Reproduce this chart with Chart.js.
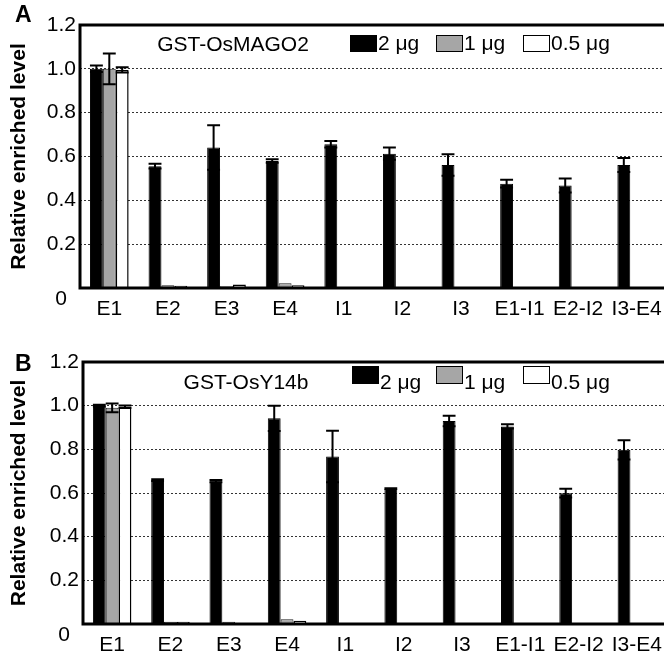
<!DOCTYPE html>
<html>
<head>
<meta charset="utf-8">
<script src="https://cdn.jsdelivr.net/npm/chart.js@4.4.1/dist/chart.umd.min.js"></script>
<style>
body { margin: 0; background: #fff; overflow: hidden; }
#wrap { position: relative; width: 664px; height: 655px; overflow: hidden; }
canvas { position: absolute; left: 0; }
#chartA { top: 0; }
#chartB { top: 330px; }
</style>
</head>
<body>
<div id="wrap">
  <canvas id="chartA" width="668" height="320"></canvas>
  <canvas id="chartB" width="668" height="325"></canvas>
</div>
<script>
const categories = ['E1', 'E2', 'E3', 'E4', 'I1', 'I2', 'I3', 'E1-I1', 'E2-I2', 'I3-E4'];
const doseLabels = ['2 μg', '1 μg', '0.5 μg'];
const yMin = 0, yMax = 1.2, yStep = 0.2;

// panel A - GST-OsMAGO2
const magoHigh    = [1.0, 0.556, 0.641, 0.579, 0.656, 0.613, 0.561, 0.476, 0.468, 0.561];
const magoHighErr = [0.015, 0.011, 0.102, 0.008, 0.015, 0.028, 0.049, 0.018, 0.032, 0.032];
const magoMid     = [1.0, 0.012, 0.008, 0.022, 0.003, 0.003, 0.003, 0.003, 0.003, 0.004];
const magoMidErr  = [0.07, 0, 0, 0, 0, 0, 0, 0, 0, 0];
const magoLow     = [0.995, 0.010, 0.016, 0.012, 0.003, 0.003, 0.003, 0.003, 0.003, 0.003];
const magoLowErr  = [0.012, 0, 0, 0, 0, 0, 0, 0, 0, 0];

// panel B - GST-OsY14b
const y14High    = [1.0, 0.659, 0.654, 0.942, 0.767, 0.620, 0.930, 0.905, 0.599, 0.798];
const y14HighErr = [0.004, 0.004, 0.005, 0.058, 0.118, 0.002, 0.024, 0.010, 0.020, 0.044];
const y14Mid     = [0.99, 0.010, 0.010, 0.022, 0.003, 0.003, 0.003, 0.003, 0.003, 0.003];
const y14MidErr  = [0.02, 0, 0, 0, 0, 0, 0, 0, 0, 0];
const y14Low     = [0.995, 0.010, 0.005, 0.015, 0.003, 0.003, 0.003, 0.003, 0.003, 0.003];
const y14LowErr  = [0.006, 0, 0, 0, 0, 0, 0, 0, 0, 0];

const FONT = '"Liberation Sans", Arial, Helvetica, sans-serif';

const errorBars = {
    id: 'errorBars',
    afterDatasetsDraw(chart) {
        const ctx = chart.ctx;
        const y = chart.scales.y;
        chart.data.datasets.forEach((ds, i) => {
            const meta = chart.getDatasetMeta(i);
            meta.data.forEach((bar, j) => {
                const e = ds.errors[j];
                if (!e) return;
                const v = ds.data[j];
                const top = y.getPixelForValue(v + e);
                const bot = y.getPixelForValue(v - e);
                const half = bar.width * 0.5;
                ctx.save();
                ctx.strokeStyle = '#000';
                ctx.lineWidth = 2;
                ctx.beginPath();
                ctx.moveTo(bar.x, top); ctx.lineTo(bar.x, bot);
                ctx.moveTo(bar.x - half, top); ctx.lineTo(bar.x + half, top);
                ctx.moveTo(bar.x - half, bot); ctx.lineTo(bar.x + half, bot);
                ctx.stroke();
                ctx.restore();
            });
        });
    }
};

const panelDecor = {
    id: 'panelDecor',
    afterDraw(chart, args, o) {
        const ctx = chart.ctx;
        const a = chart.chartArea;
        ctx.save();
        ctx.strokeStyle = '#000';
        ctx.lineWidth = 3;
        ctx.strokeRect(a.left, a.top, a.right - a.left, a.bottom - a.top);

        ctx.fillStyle = '#000';
        ctx.textBaseline = 'middle';
        ctx.textAlign = 'left';
        ctx.font = 'bold 23px ' + FONT;
        ctx.fillText(o.letter, o.letterX, o.letterY);

        // the zero label sits a little below the axis line
        ctx.font = '21px ' + FONT;
        ctx.textAlign = 'center';
        ctx.fillText('0', o.zeroX, chart.scales.y.getPixelForValue(0) + o.zeroDrop);

        ctx.fillText(o.title, o.titleX, o.titleY);

        ctx.textAlign = 'left';
        chart.data.datasets.forEach((ds, i) => {
            const x = o.legendX[i];
            ctx.fillStyle = ds.backgroundColor;
            ctx.fillRect(x, o.boxTop, 27, o.boxH);
            ctx.lineWidth = 1;
            ctx.strokeStyle = '#000';
            ctx.strokeRect(x + 0.5, o.boxTop + 0.5, 26, o.boxH - 1);
            ctx.fillStyle = '#000';
            ctx.fillText(ds.label, x + 28, o.textY);
        });
        ctx.restore();
    }
};

function makePanel(id, high, highErr, mid, midErr, low, lowErr, axisLeft, padTop, xHeight, decor) {
    return new Chart(document.getElementById(id), {
        type: 'bar',
        data: {
            labels: categories,
            datasets: [
                { label: doseLabels[0], data: high, errors: highErr,
                  backgroundColor: '#000000', borderColor: '#000000', borderWidth: 1 },
                { label: doseLabels[1], data: mid, errors: midErr,
                  backgroundColor: '#a6a6a6', borderColor: '#222222', borderWidth: 1 },
                { label: doseLabels[2], data: low, errors: lowErr,
                  backgroundColor: '#ffffff', borderColor: '#000000', borderWidth: 1.5 }
            ]
        },
        options: {
            responsive: false,
            animation: false,
            devicePixelRatio: 1,
            layout: { padding: { top: padTop, right: 2, left: 0, bottom: 0 } },
            datasets: { bar: { barPercentage: 1, categoryPercentage: 0.66 } },
            plugins: {
                legend: { display: false },
                tooltip: { enabled: false },
                panelDecor: decor
            },
            scales: {
                x: {
                    grid: { display: false },
                    border: { display: false },
                    ticks: { color: '#000', font: { family: FONT, size: 21 }, padding: 1, maxRotation: 0, autoSkip: false },
                    afterFit: s => { s.height = xHeight; }
                },
                y: {
                    min: yMin, max: yMax,
                    grid: {
                        drawTicks: false,
                        lineWidth: 1,
                        color: c => (c.tick.value <= 0 || c.tick.value >= yMax - 0.01) ? 'rgba(0,0,0,0)' : '#333'
                    },
                    border: { display: false, dash: [2, 2] },
                    ticks: {
                        stepSize: yStep,
                        color: '#000',
                        padding: 4,
                        font: { family: FONT, size: 21 },
                        callback: v => v === 0 ? '' : v.toFixed(1)
                    },
                    title: {
                        display: true,
                        text: 'Relative enriched level',
                        color: '#000',
                        font: { family: FONT, size: 21, weight: 'bold' },
                        padding: { top: 7, bottom: 0 }
                    },
                    afterFit: s => { s.width = axisLeft; }
                }
            }
        },
        plugins: [errorBars, panelDecor]
    });
}

makePanel('chartA', magoHigh, magoHighErr, magoMid, magoMidErr, magoLow, magoLowErr, 80, 25, 32, {
    letter: 'A', letterX: 15, letterY: 16, zeroX: 61, zeroDrop: 11,
    title: 'GST-OsMAGO2', titleX: 233, titleY: 45,
    legendX: [350, 436, 523], boxTop: 35, boxH: 17, textY: 44
});

makePanel('chartB', y14High, y14HighErr, y14Mid, y14MidErr, y14Low, y14LowErr, 83, 32, 31, {
    letter: 'B', letterX: 15, letterY: 35, zeroX: 64, zeroDrop: 11,
    title: 'GST-OsY14b', titleX: 246, titleY: 53,
    legendX: [352, 436, 523], boxTop: 36, boxH: 18, textY: 53
});
</script>
</body>
</html>
